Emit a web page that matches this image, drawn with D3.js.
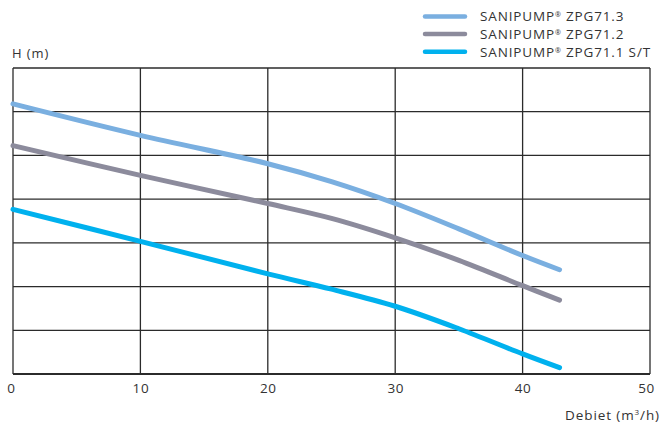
<!DOCTYPE html>
<html>
<head>
<meta charset="utf-8">
<script src="https://cdn.jsdelivr.net/npm/d3@7"></script>
<style>
  body { margin: 0; background: #fff; }
  svg { display: block; }
  text { font-family: "Open Sans", sans-serif; fill: #333; }
</style>
</head>
<body>
<div id="chart"></div>
<script>
// Q in m3/h, H in m
var flow = [0, 10, 20, 25, 30, 35, 40, 42.9];
var head_713 = [12.36, 10.92, 9.62, 8.80, 7.80, 6.64, 5.42, 4.77];
var head_712 = [10.45, 9.09, 7.80, 7.12, 6.23, 5.20, 4.04, 3.38];
var head_711 = [7.53, 6.07, 4.58, 3.88, 3.10, 2.07, 0.92, 0.29];
var seriesNames = ["SANIPUMP\u00AE ZPG71.3", "SANIPUMP\u00AE ZPG71.2", "SANIPUMP\u00AE ZPG71.1 S/T"];
var xTicks = [0, 10, 20, 30, 40, 50];
var yGrid = [0, 2, 4, 6, 8, 10, 12, 14];

var colors = ["#7aafe0", "#8c8b9c", "#00b1ee"];
var series = [head_713, head_712, head_711];

var W = 661, H = 424;
var margin = {top: 68, right: 11, bottom: 50, left: 13};

var svg = d3.select("#chart").append("svg")
  .attr("width", W)
  .attr("height", H);

var x = d3.scaleLinear().domain([0, 50]).range([margin.left, W - margin.right]);
var y = d3.scaleLinear().domain([0, 14]).range([H - margin.bottom, margin.top]);

// grid
svg.append("g")
  .selectAll("line.v")
  .data(xTicks)
  .enter().append("line")
  .attr("x1", function(d){ return x(d); })
  .attr("x2", function(d){ return x(d); })
  .attr("y1", y(0))
  .attr("y2", y(14))
  .attr("stroke", "#2b2b2b")
  .attr("stroke-width", 1.3);

svg.append("g")
  .selectAll("line.h")
  .data(yGrid)
  .enter().append("line")
  .attr("x1", x(0))
  .attr("x2", x(50))
  .attr("y1", function(d){ return y(d); })
  .attr("y2", function(d){ return y(d); })
  .attr("stroke", "#2b2b2b")
  .attr("stroke-width", function(d){ return d === 0 ? 1.8 : 1.3; });

// x axis labels
var xAxis = d3.axisBottom(x).tickValues(xTicks).tickSize(0).tickPadding(9);
var gx = svg.append("g")
  .attr("transform", "translate(0," + y(0) + ")")
  .call(xAxis);
gx.select(".domain").remove();
gx.selectAll("text")
  .style("font-family", "'Open Sans', sans-serif")
  .style("font-size", "13.5px")
  .style("letter-spacing", "0.6px")
  .style("fill", "#333");
gx.selectAll(".tick").filter(function(d){ return d === 0; }).select("text").attr("dx", "-2");
gx.selectAll(".tick").filter(function(d){ return d === 50; }).select("text").attr("dx", "-4");

// axis titles
svg.append("text")
  .attr("x", 12)
  .attr("y", 58)
  .style("font-size", "13px")
  .style("letter-spacing", "0.9px")
  .text("H (m)");

var dt = svg.append("text")
  .attr("x", 660)
  .attr("y", 420)
  .attr("text-anchor", "end")
  .style("font-size", "13.5px")
  .style("letter-spacing", "0.9px");
dt.append("tspan").text("Debiet (m");
dt.append("tspan").attr("dy", -5).style("font-size", "8px").text("3");
dt.append("tspan").attr("dy", 5).text("/h)");

// curves
var line = d3.line()
  .x(function(d, i){ return x(flow[i]); })
  .y(function(d){ return y(d); })
  .curve(d3.curveCatmullRom.alpha(0.5));

svg.append("g")
  .selectAll("path")
  .data(series)
  .enter().append("path")
  .attr("d", line)
  .attr("fill", "none")
  .attr("stroke", function(d, i){ return colors[i]; })
  .attr("stroke-width", 5)
  .attr("stroke-linecap", "round");

// legend
var legend = svg.append("g")
  .selectAll("g")
  .data(seriesNames)
  .enter().append("g")
  .attr("transform", function(d, i){ return "translate(0," + (16.5 + i * 17.6) + ")"; });

legend.append("line")
  .attr("x1", 425)
  .attr("x2", 465)
  .attr("stroke", function(d, i){ return colors[i]; })
  .attr("stroke-width", 4.5)
  .attr("stroke-linecap", "round");

legend.append("text")
  .attr("x", 480)
  .attr("y", 4.8)
  .style("font-size", "13.5px")
  .style("letter-spacing", "0.85px")
  .each(function(d){
    var parts = d.split("\u00AE");
    var t = d3.select(this);
    t.append("tspan").text(parts[0]);
    t.append("tspan").attr("dy", -4).style("font-size", "7px").text("\u00AE");
    t.append("tspan").attr("dy", 4).text(parts[1]);
  });
</script>
</body>
</html>
